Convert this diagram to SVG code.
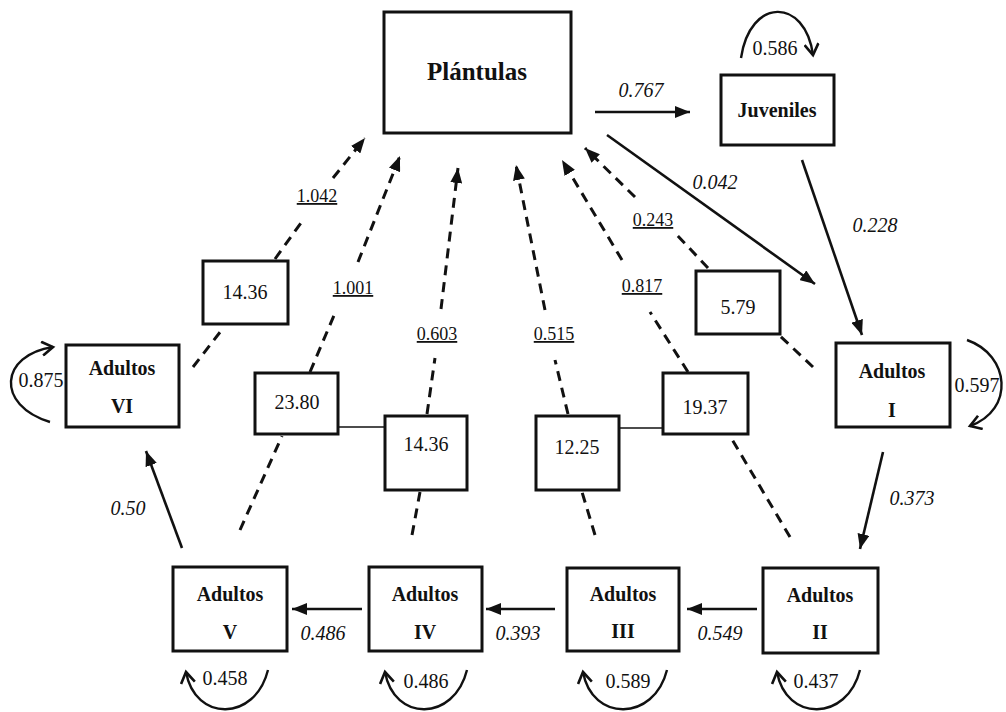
<svg xmlns="http://www.w3.org/2000/svg" width="1006" height="712" viewBox="0 0 1006 712">
<defs>
<style>
.box{fill:#fff;stroke:#111;stroke-width:3}
.t{fill:#111;text-anchor:middle;font-family:'Liberation Serif'}
.b{font-weight:bold;font-size:20px}
.n{font-size:20px}
.i{font-style:italic;font-size:20px}
.u{font-size:18px;text-decoration:underline}
.sol{stroke:#111;stroke-width:2.6;fill:none}
.dash{stroke:#111;stroke-width:3;fill:none;stroke-dasharray:10 7}
.thin{stroke:#111;stroke-width:1.4;fill:none}
.loop{stroke:#111;stroke-width:2.4;fill:none}
</style>
<marker id="arr" markerUnits="userSpaceOnUse" markerWidth="16" markerHeight="12" refX="15" refY="6" orient="auto">
<path d="M0,0 L15,6 L0,12 z" fill="#111"/>
</marker>
<marker id="chev" markerUnits="userSpaceOnUse" markerWidth="16" markerHeight="16" refX="12" refY="8" orient="auto">
<path d="M1,1 L12,8 L1,15" fill="none" stroke="#111" stroke-width="2.6"/>
</marker>
</defs>
<rect width="1006" height="712" fill="#fff"/>

<g id="connectors">
<line class="sol" x1="595" y1="112" x2="690" y2="112" marker-end="url(#arr)"/>
<line class="sol" x1="607" y1="135" x2="815" y2="284" marker-end="url(#arr)"/>
<line class="sol" x1="802" y1="160" x2="862" y2="335" marker-end="url(#arr)"/>
<line class="sol" x1="883" y1="452" x2="860" y2="549" marker-end="url(#arr)"/>
<line class="sol" x1="757" y1="609" x2="687" y2="609" marker-end="url(#arr)"/>
<line class="sol" x1="555" y1="609" x2="486" y2="609" marker-end="url(#arr)"/>
<line class="sol" x1="362" y1="609" x2="292" y2="609" marker-end="url(#arr)"/>
<line class="sol" x1="182" y1="548" x2="146" y2="451" marker-end="url(#arr)"/>

<path class="loop" d="M741,58 C750,-3 805,-3 813,55" marker-end="url(#chev)"/>
<path class="loop" d="M967,340 C1010,355 1015,410 970,426" marker-end="url(#chev)"/>
<path class="loop" d="M50,422 C-5,405 0,355 53,347" marker-end="url(#chev)"/>
<path class="loop" d="M268,670 C255,722 195,722 186,672" marker-end="url(#chev)"/>
<path class="loop" d="M467,670 C454,722 394,722 385,672" marker-end="url(#chev)"/>
<path class="loop" d="M667,670 C654,722 592,722 583,672" marker-end="url(#chev)"/>
<path class="loop" d="M860,670 C847,722 786,722 777,672" marker-end="url(#chev)"/>

<line class="dash" x1="193" y1="367" x2="224" y2="327"/>
<line class="dash" x1="275" y1="259" x2="303" y2="220"/>
<line class="dash" x1="333" y1="178" x2="365" y2="138" marker-end="url(#arr)"/>

<line class="dash" x1="240" y1="530" x2="282" y2="436"/>
<line class="dash" x1="310" y1="372" x2="335" y2="313"/>
<line class="dash" x1="358" y1="262" x2="400" y2="156" marker-end="url(#arr)"/>

<line class="dash" x1="412" y1="535" x2="420" y2="492"/>
<line class="dash" x1="427" y1="414" x2="435" y2="358"/>
<line class="dash" x1="441" y1="309" x2="458" y2="168" marker-end="url(#arr)"/>

<line class="dash" x1="595" y1="535" x2="582" y2="492"/>
<line class="dash" x1="568" y1="414" x2="555" y2="360"/>
<line class="dash" x1="545" y1="310" x2="516" y2="165" marker-end="url(#arr)"/>

<line class="dash" x1="790" y1="537" x2="730" y2="436"/>
<line class="dash" x1="688" y1="372" x2="650" y2="312"/>
<line class="dash" x1="622" y1="260" x2="562" y2="160" marker-end="url(#arr)"/>

<line class="dash" x1="813" y1="367" x2="779" y2="335"/>
<line class="dash" x1="708" y1="268" x2="677" y2="235"/>
<line class="dash" x1="635" y1="197" x2="585" y2="148" marker-end="url(#arr)"/>

<line class="thin" x1="338" y1="427" x2="385" y2="427"/>
<line class="thin" x1="619" y1="428" x2="663" y2="428"/>

<text class="t i" x="641" y="97">0.767</text>
<text class="t n" x="775" y="55">0.586</text>
<text class="t i" x="715" y="189">0.042</text>
<text class="t i" x="875" y="232">0.228</text>
<text class="t n" x="977" y="392">0.597</text>
<text class="t i" x="912" y="505">0.373</text>
<text class="t i" x="720" y="640">0.549</text>
<text class="t i" x="518" y="640">0.393</text>
<text class="t i" x="323" y="640">0.486</text>
<text class="t i" x="128" y="515">0.50</text>
<text class="t n" x="41" y="387">0.875</text>
<text class="t n" x="225" y="685">0.458</text>
<text class="t n" x="426" y="688">0.486</text>
<text class="t n" x="628" y="688">0.589</text>
<text class="t n" x="816" y="688">0.437</text>
<text class="t u" x="317" y="202">1.042</text>
<text class="t u" x="353" y="294">1.001</text>
<text class="t u" x="437" y="340">0.603</text>
<text class="t u" x="554" y="340">0.515</text>
<text class="t u" x="642" y="292">0.817</text>
<text class="t u" x="653" y="226">0.243</text>
</g>

<g id="plantulas"><rect class="box" x="384" y="12" width="187" height="121"/><text class="t b" style="font-size:25px" x="477" y="80">Plántulas</text></g>
<g id="juveniles"><rect class="box" x="721" y="75" width="113" height="70"/><text class="t b" x="777" y="117">Juveniles</text></g>
<g id="adultos-i"><rect class="box" x="836" y="343" width="114" height="84"/><text class="t b" x="892" y="378">Adultos</text><text class="t b" x="892" y="417">I</text></g>
<g id="adultos-ii"><rect class="box" x="763" y="568" width="115" height="85"/><text class="t b" x="820" y="602">Adultos</text><text class="t b" x="820" y="639">II</text></g>
<g id="adultos-iii"><rect class="box" x="567" y="568" width="112" height="83"/><text class="t b" x="623" y="601">Adultos</text><text class="t b" x="623" y="638">III</text></g>
<g id="adultos-iv"><rect class="box" x="369" y="567" width="113" height="84"/><text class="t b" x="425" y="601">Adultos</text><text class="t b" x="425" y="639">IV</text></g>
<g id="adultos-v"><rect class="box" x="173" y="567" width="114" height="84"/><text class="t b" x="230" y="601">Adultos</text><text class="t b" x="230" y="639">V</text></g>
<g id="adultos-vi"><rect class="box" x="66" y="345" width="113" height="82"/><text class="t b" x="122" y="375">Adultos</text><text class="t b" x="122" y="413">VI</text></g>
<g id="v1436a"><rect class="box" x="203" y="261" width="85" height="63"/><text class="t n" x="245" y="299">14.36</text></g>
<g id="v2380"><rect class="box" x="255" y="373" width="83" height="61"/><text class="t n" x="297" y="409">23.80</text></g>
<g id="v1436b"><rect class="box" x="385" y="416" width="82" height="74"/><text class="t n" x="426" y="451">14.36</text></g>
<g id="v1225"><rect class="box" x="536" y="416" width="83" height="74"/><text class="t n" x="577" y="454">12.25</text></g>
<g id="v1937"><rect class="box" x="663" y="373" width="85" height="61"/><text class="t n" x="705" y="414">19.37</text></g>
<g id="v579"><rect class="box" x="696" y="271" width="84" height="63"/><text class="t n" x="738" y="314">5.79</text></g>
</svg>
